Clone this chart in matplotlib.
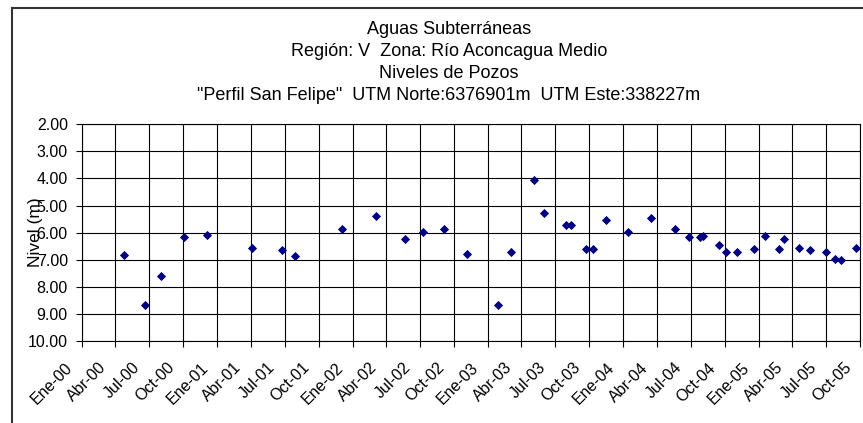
import matplotlib
matplotlib.use("Agg")
import matplotlib.pyplot as plt
import matplotlib.dates as mdates
from matplotlib.patches import Rectangle
from matplotlib.transforms import ScaledTranslation
import pandas as pd

# Fechas de medición y nivel del pozo (m)
fechas = ['2000-04-25', '2000-06-19', '2000-08-01', '2000-10-02', '2000-12-04',
          '2001-04-04', '2001-06-25', '2001-07-30', '2001-12-03', '2002-03-04',
          '2002-05-21', '2002-07-10', '2002-09-05', '2002-11-05', '2003-01-28',
          '2003-03-05', '2003-05-05', '2003-06-02', '2003-07-30', '2003-08-14',
          '2003-09-21', '2003-10-12', '2003-11-16', '2004-01-13', '2004-03-15',
          '2004-05-18', '2004-06-25', '2004-07-25', '2004-08-04', '2004-09-14',
          '2004-10-05', '2004-11-02', '2004-12-17', '2005-01-18', '2005-02-25',
          '2005-03-09', '2005-04-18', '2005-05-17', '2005-07-01', '2005-07-26',
          '2005-08-10', '2005-09-20']
niveles = [6.84, 8.66, 7.59, 6.15, 6.09, 6.55, 6.63, 6.86, 5.85, 5.40,
           6.22, 5.99, 5.88, 6.79, 8.67, 6.73, 4.06, 5.29, 5.70, 5.70,
           6.60, 6.60, 5.54, 5.96, 5.47, 5.88, 6.16, 6.16, 6.12, 6.46,
           6.70, 6.73, 6.62, 6.12, 6.62, 6.23, 6.57, 6.64, 6.71, 6.97,
           7.02, 6.55]

meses = {1: 'Ene', 4: 'Abr', 7: 'Jul', 10: 'Oct'}
y_ticks = [2, 3, 4, 5, 6, 7, 8, 9, 10]

titulo = ['Aguas Subterráneas',
          'Región: V  Zona: Río Aconcagua Medio',
          'Niveles de Pozos',
          '"Perfil San Felipe"  UTM Norte:6376901m  UTM Este:338227m']

plt.rcParams['font.family'] = ['Liberation Sans', 'DejaVu Sans']
plt.rcParams['font.size'] = 11.5

W, H = 863, 423
fig = plt.figure(figsize=(W / 100, H / 100), dpi=100)

# marco del gráfico
fig.patches.append(Rectangle((12 / W, -0.05), 1.1, (H - 8) / H + 0.05,
                             transform=fig.transFigure, fill=False,
                             ec='#333333', lw=1.5))

for i, linea in enumerate(titulo):
    fig.text(449 / W, 1 - (30 + 22 * i) / H, linea, ha='center', va='center',
             fontsize=13)

ax = fig.add_axes([81.7 / W, 1 - 341 / H, (860.3 - 81.7) / W, (341 - 124.3) / H])

x = pd.to_datetime(fechas)
ax.plot(x, niveles, linestyle='none', marker='D', markersize=4.2,
        markeredgewidth=0.6, color='#000080', zorder=3, clip_on=False)

ticks_x = pd.date_range('2000-01-01', '2005-10-01', freq='QS')
ax.set_xlim(ticks_x[0], ticks_x[-1])
ax.set_xticks(ticks_x)
ax.set_xticklabels([])

# etiquetas de fecha giradas, con el extremo derecho junto a cada marca
desplaz = ax.get_xaxis_transform() + ScaledTranslation(-17 / 100, -19 / 100,
                                                       fig.dpi_scale_trans)
for t in ticks_x:
    ax.text(mdates.date2num(t), 0, f"{meses[t.month]}-{t.year % 100:02d}",
            transform=desplaz, rotation=45, ha='right', va='top',
            rotation_mode='anchor', clip_on=False)

ax.set_ylim(10, 2)
ax.set_yticks(y_ticks)
ax.set_yticklabels([f"{v:.2f}" for v in y_ticks])

ax.grid(True, color='black', linewidth=0.8)
ax.set_axisbelow(True)
ax.tick_params(axis='both', direction='out', length=4, width=0.8, color='black')
ax.tick_params(axis='y', pad=6)
for s in ax.spines.values():
    s.set_color('black')
    s.set_linewidth(0.8)

fig.text(35 / W, 1 - 232 / H, 'Nivel (m)', rotation=90, ha='center',
         va='center', fontsize=12.5)

fig.savefig('out.png', dpi=100)
